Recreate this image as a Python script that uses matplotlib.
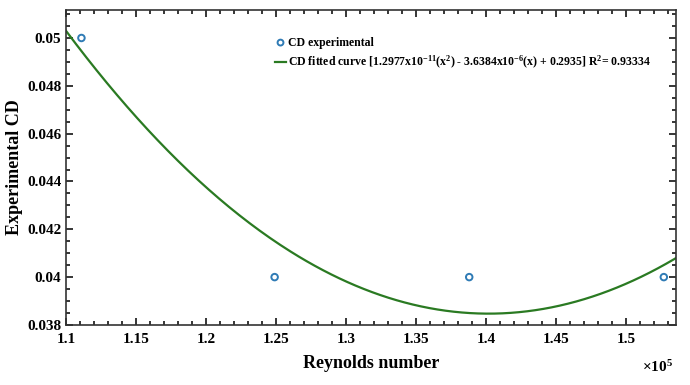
import matplotlib.pyplot as plt
import numpy as np
from matplotlib.ticker import MultipleLocator, FuncFormatter

plt.rcParams['font.family'] = ['Liberation Serif', 'DejaVu Serif']
plt.rcParams['font.weight'] = 'bold'
plt.rcParams['mathtext.fontset'] = 'custom'
plt.rcParams['mathtext.rm'] = 'Liberation Serif:bold'
plt.rcParams['mathtext.bf'] = 'Liberation Serif:bold'
plt.rcParams['mathtext.default'] = 'bf'

# measured points
reynolds = [1.111e5, 1.249e5, 1.388e5, 1.527e5]
cd_exp = [0.05, 0.04, 0.04, 0.04]

# fit coefficients from the legend (x^2, x, const)
fit_coef = [1.2977e-11, -3.6384e-6, 0.2935]

x_lim = (1.1e5, 1.5357e5)
y_lim = (0.038, 0.05117)

if __name__ == "__main__":
    fig = plt.figure(figsize=(6.9, 3.85), dpi=100)
    ax = fig.add_axes([0.0957, 0.156, 0.884, 0.818])

    xs = np.linspace(x_lim[0], x_lim[1], 300)
    ax.plot(xs, np.polyval(fit_coef, xs), color='#2a7a22', lw=1.6,
            label=r'CD fitted curve [1.2977x10$^{-11}$(x$^{2}$) - 3.6384x10$^{-6}$(x) + 0.2935] R$^{2}$= 0.93334')
    ax.scatter(reynolds, cd_exp, s=22, facecolors='none', edgecolors='#2f7bb5',
               linewidths=1.4, label='CD experimental', zorder=3)

    ax.set_xlim(*x_lim)
    ax.set_ylim(*y_lim)

    ax.xaxis.set_major_locator(MultipleLocator(5000))
    ax.xaxis.set_minor_locator(MultipleLocator(1000))
    ax.yaxis.set_major_locator(MultipleLocator(0.002))
    ax.yaxis.set_minor_locator(MultipleLocator(0.0005))
    ax.xaxis.set_major_formatter(FuncFormatter(lambda v, p: f"{v / 1e5:g}"))
    ax.yaxis.set_major_formatter(FuncFormatter(lambda v, p: f"{v:g}"))

    ax.tick_params(which='both', direction='in', top=True, right=True,
                   labelsize=11, width=1.1)
    ax.tick_params(which='major', length=5)
    ax.tick_params(which='minor', length=3)
    ax.tick_params(axis='x', pad=6)
    for s in ax.spines.values():
        s.set_linewidth(1.2)
        s.set_color('#333333')

    ax.set_xlabel('Reynolds number', fontsize=13, fontweight='bold', labelpad=6)
    ax.set_ylabel('Experimental CD', fontsize=13, fontweight='bold', labelpad=3)
    fig.text(0.976, 0.025, r'$\times$10$^{5}$', ha='right', va='bottom', fontsize=11)

    handles, labels = ax.get_legend_handles_labels()
    leg = ax.legend(handles[::-1], labels[::-1], loc='upper left',
                    bbox_to_anchor=(0.392, 0.917), bbox_transform=fig.transFigure,
                    frameon=False, fontsize=8.5, handlelength=0.9,
                    handletextpad=0.2, labelspacing=0.45, borderaxespad=0,
                    markerscale=0.9)

    plt.savefig('out.png', dpi=100)
